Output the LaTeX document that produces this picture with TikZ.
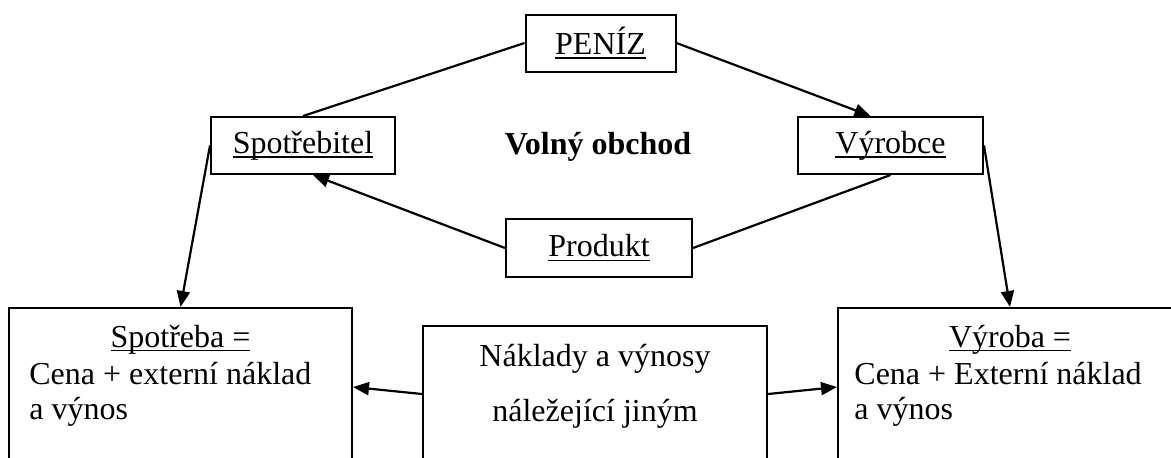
\documentclass[tikz,border=0pt]{standalone}
\usepackage{fontspec}
\setmainfont{Liberation Serif}
\usetikzlibrary{arrows.meta}
\usetikzlibrary{calc}
\newcommand{\undl}[1]{\setbox0\hbox{#1}\rlap{\rule[-2.2pt]{\wd0}{0.9pt}}\box0}
\tikzset{item box/.style={
    draw,line width=1pt,inner sep=0pt,minimum width=#1,minimum height=28.5pt}}
\tikzset{open box/.style={
    draw,line width=1pt,inner sep=0pt,minimum width=172pt,minimum height=#1}}
\tikzset{flow line/.style={line width=1.1pt}}
\tikzset{flow arrow/.style={flow line,-{Triangle[length=8pt,width=6.5pt]}}}
\tikzset{box text/.style={anchor=base,inner sep=0pt}}

\begin{document}
\begin{tikzpicture}[x=0.5pt,y=-0.5pt,font=\fontsize{16}{18}\selectfont]
              % pixel grid of the page, boxes at the bottom run off it
              \useasboundingbox (0,0) rectangle (1171,457);
              \clip (0,0) rectangle (1171,457);
              \node[item box=75pt] at (600.5,43) (peniz) {\undl{PENÍZ}};
              \node[item box=92pt] at (303,145.5) (spotr) {\undl{Spotřebitel}};
              \node[item box=92.5pt] at (890.5,145.5) (vyrobce) {\undl{Výrobce}};
              \node[item box=93pt,minimum height=29pt] at (599,248) (produkt) {\undl{Produkt}};
              \node[font=\fontsize{16}{18}\selectfont\bfseries] at (598,147) (volny) {Volný obchod};
              \node[open box=79pt,minimum width=171.5pt] at (180.5,387) (spotreba) {};
              \node[open box=68pt] at (595,394) (naklady) {};
              \node[open box=79pt] at (1010,387) (vyroba) {};
              % texts in the bottom boxes
              \node[box text] at ($(spotreba.north)+(0,40)$) (spotreba1) {\undl{Spotřeba =}};
              \node[box text,anchor=base west] at ($(spotreba.north west)+(21,77)$) (spotreba2) {Cena + externí náklad};
              \node[box text,anchor=base west] at ($(spotreba.north west)+(21,112)$) (spotreba3) {a výnos};
              \node[box text] at ($(naklady.north)+(0,41)$) (naklady1) {Náklady a výnosy};
              \node[box text] at ($(naklady.north)+(0,96)$) (naklady2) {náležející jiným};
              \node[box text] at ($(vyroba.north)+(0,40)$) (vyroba1) {\undl{Výroba =}};
              \node[box text,anchor=base west] at ($(vyroba.north west)+(17,77)$) (vyroba2) {Cena + Externí náklad};
              \node[box text,anchor=base west] at ($(vyroba.north west)+(17,112)$) (vyroba3) {a výnos};
              % the trade circle
              \draw[flow line] (spotr.north) -- (peniz.west);
              \draw[flow arrow] (peniz.east) -- ($(vyrobce.north)+(-20,0)$);
              \draw[flow line] (vyrobce.south) -- (produkt.east);
              \draw[flow arrow] (produkt.west) -- ($(spotr.south)+(10,0)$);
              \draw[flow arrow] (spotr.west) -- (spotreba.north);
              \draw[flow arrow] (vyrobce.east) -- (vyroba.north);
              \draw[flow arrow] (naklady.west) -- (spotreba.east);
              \draw[flow arrow] (naklady.east) -- (vyroba.west);
            \end{tikzpicture}
\end{document}
